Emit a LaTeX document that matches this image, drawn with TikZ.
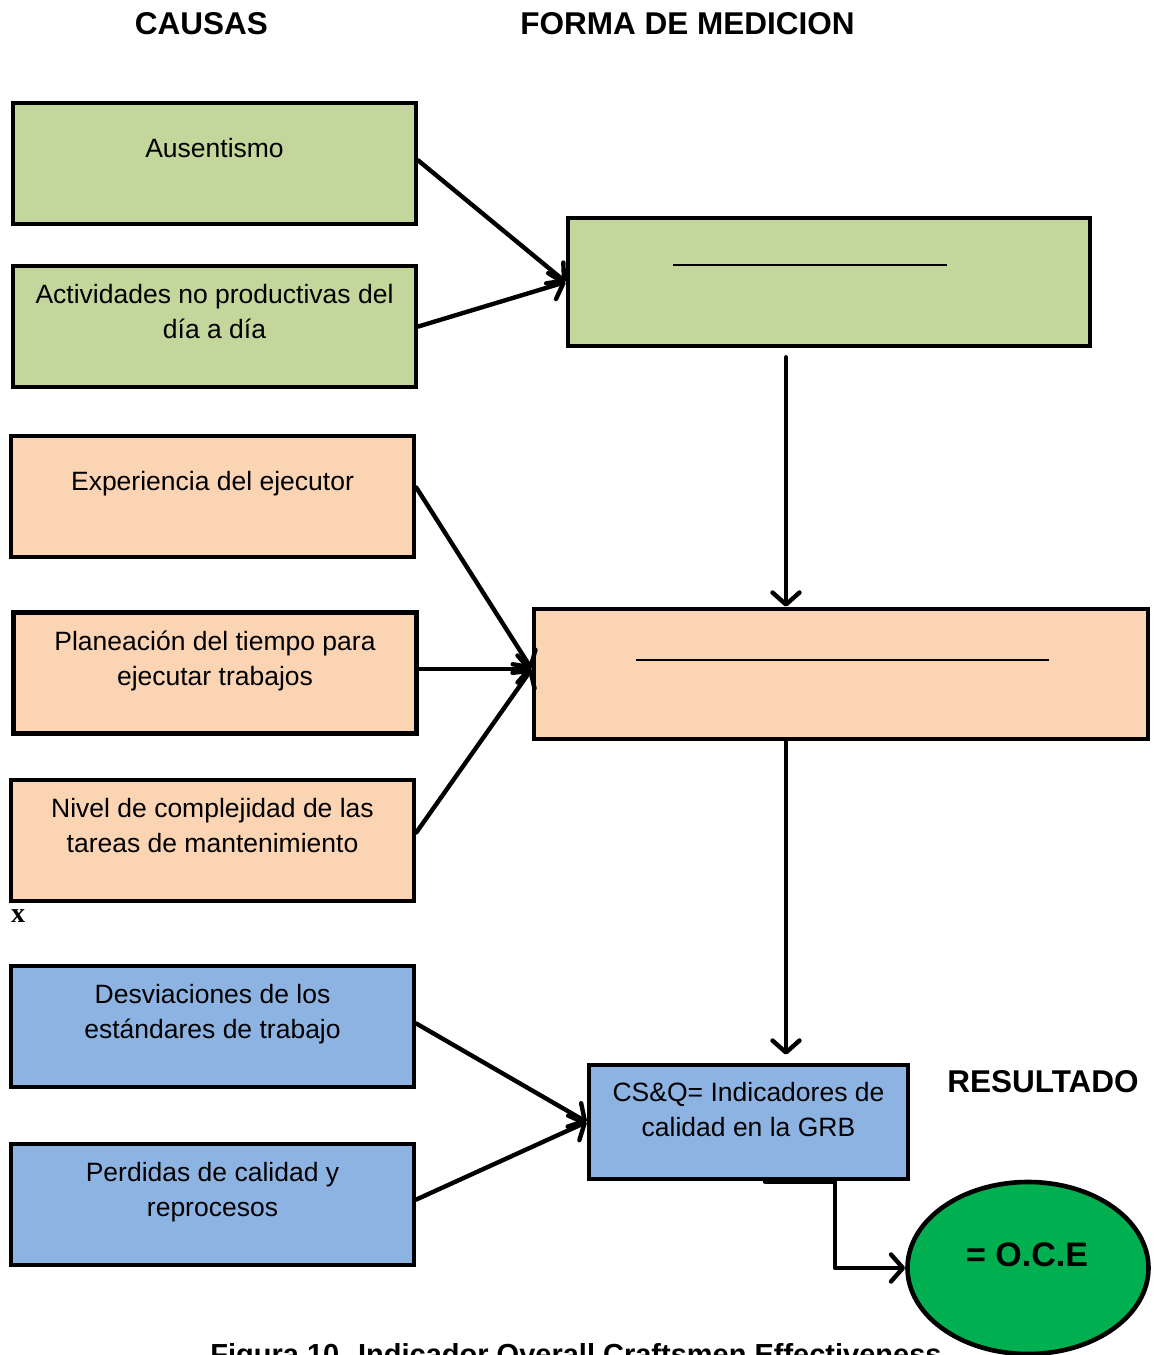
\documentclass[tikz,border=0pt]{standalone}
\usepackage{fontspec}
\setmainfont{Liberation Sans}
\newfontfamily\markfont{Liberation Serif}
\usetikzlibrary{arrows.meta,shapes.geometric}
\definecolor{causegreen}{HTML}{C3D69B}
\definecolor{causepeach}{HTML}{FBD4B4}
\definecolor{causeblue}{HTML}{8DB3E2}
\definecolor{resultgreen}{HTML}{00B050}
\tikzset{
  box/.style={draw=black, line width=4.6pt, rectangle, inner sep=0pt},
  cause/.style={box, minimum width=403pt, minimum height=121pt},
  boxtext/.style={align=center, font=\fontsize{26.5}{35}\selectfont, inner sep=0pt},
  heading/.style={font=\fontsize{31.5}{38}\selectfont\bfseries, inner sep=0pt},
  arr/.style={line width=4.4pt, -{Straight Barb[round,length=12pt,width=27pt]}, line cap=round, line join=round},
  fracline/.style={line width=1.8pt}
}
\begin{document}
\begin{tikzpicture}[x=1pt,y=-1pt]
\useasboundingbox (0,0) rectangle (1155,1355);

% column headings
\node[heading] (hcausas) at (201.5,24) {CAUSAS};
\node[heading] (hforma) at (687.5,24) {FORMA DE MEDICION};
\node[heading] (hres) at (1043,1082) {RESULTADO};

% causes
\node[cause, fill=causegreen] (b1) at (214.5,163.5) {};
\node[cause, fill=causegreen] (b2) at (214.5,326.5) {};
\node[cause, fill=causepeach] (b3) at (212.5,496.5) {};
\node[cause, fill=causepeach] (b4) at (215,673) {};
\node[cause, fill=causepeach] (b5) at (212.5,840.5) {};
\node[cause, fill=causeblue] (b6) at (212.5,1026.5) {};
\node[cause, fill=causeblue] (b7) at (212.5,1204.5) {};

\node[boxtext] (t1) at ([yshift=15.5pt]b1.center) {Ausentismo};
\node[boxtext] (t2) at ([yshift=15pt]b2.center) {Actividades no productivas del\\día a día};
\node[boxtext] (t3) at ([yshift=12.5pt]b3.center) {Experiencia del ejecutor};
\node[boxtext] (t4) at ([yshift=12pt]b4.center) {Planeación del tiempo para\\ejecutar trabajos};
\node[boxtext] (t5) at ([yshift=15pt]b5.center) {Nivel de complejidad de las\\tareas de mantenimiento};
\node[boxtext] (t6) at ([yshift=12pt]b6.center) {Desviaciones de los\\estándares de trabajo};
\node[boxtext] (t7) at ([yshift=12pt]b7.center) {Perdidas de calidad y\\reprocesos};

\node[font=\markfont\bfseries\fontsize{28}{30}\selectfont, inner sep=0pt] (xmark) at (18,916) {x};

% measurement boxes
\node[box, fill=causegreen, minimum width=522pt, minimum height=128pt] (m1) at (829,282) {};
\node[box, fill=causepeach, minimum width=614pt, minimum height=130pt] (m2) at (841,674) {};
\draw[fracline] ([xshift=-156pt,yshift=17pt]m1.center) -- ([xshift=118pt,yshift=17pt]m1.center);
\draw[fracline] ([xshift=-205pt,yshift=14pt]m2.center) -- ([xshift=208pt,yshift=14pt]m2.center);

% quality indicators and result
\node[box, fill=causeblue, minimum width=319pt, minimum height=114pt] (q) at (748.5,1122) {};
\node[boxtext] (tq) at ([yshift=12.5pt]q.center) {CS\&Q= Indicadores de\\calidad en la GRB};
\node[draw=black, line width=4.6pt, ellipse, fill=resultgreen, minimum width=241pt, minimum height=172pt, inner sep=0pt] (oce) at (1028,1268) {};
\node[font=\fontsize{34}{40}\selectfont\bfseries, inner sep=0pt] (toce) at (1027,1255) {= O.C.E};

% connectors
\draw[arr] ([yshift=3pt]b1.east) -- (m1.west);
\draw[arr] (b2.east) -- (m1.west);
\draw[arr] ([xshift=-43pt,yshift=-9pt]m1.south) -- ([xshift=-55pt]m2.north);
\coordinate (m2in) at ([yshift=5pt]m2.west);
\draw[arr] ([yshift=9pt]b3.east) -- (m2in);
\draw[arr] ([yshift=4pt]b4.east) -- (m2in);
\draw[arr] ([yshift=8pt]b5.east) -- (m2in);
\draw[arr] ([xshift=-55pt]m2.south) -- ([xshift=37.5pt,yshift=8pt]q.north);
\draw[arr] ([yshift=3pt]b6.east) -- (q.west);
\draw[arr] ([yshift=5pt]b7.east) -- (q.west);
\coordinate (qout) at ([xshift=16.5pt]q.south);
\draw[arr] (qout) -- ++(70,0) |- (oce.west);

% caption
\node[font=\fontsize{29}{35}\selectfont\bfseries, inner sep=0pt, anchor=base] (cap) at (576,1364) {Figura 10. Indicador Overall Craftsmen Effectiveness};
\end{tikzpicture}
\end{document}
